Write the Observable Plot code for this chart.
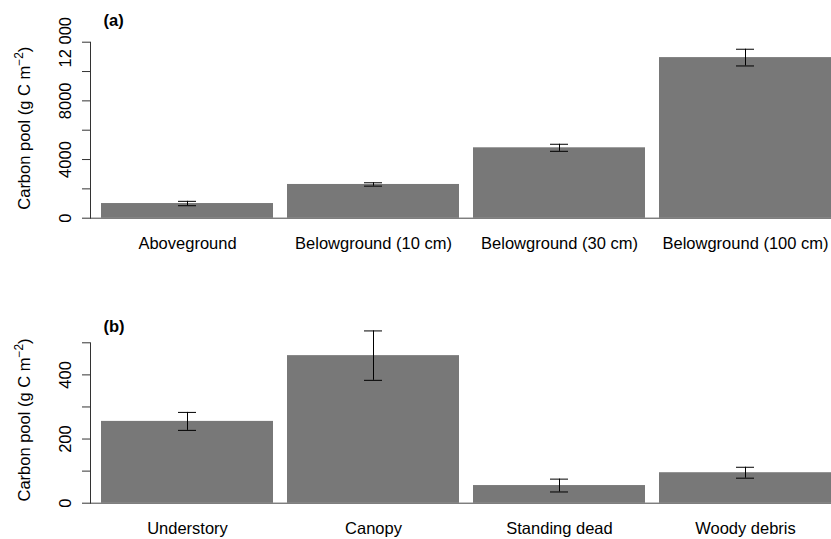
<!DOCTYPE html>
<html>
<head>
<meta charset="utf-8">
<script src="https://cdn.jsdelivr.net/npm/d3@7"></script>
<script src="https://cdn.jsdelivr.net/npm/@observablehq/plot@0.6"></script>
<style>
  html, body { margin: 0; padding: 0; background: white; }
  #chart svg { display: block; }
</style>
</head>
<body>
<div id="chart"></div>
<script>
// (a) Ecosystem carbon pools
const poolCategories = ["Aboveground", "Belowground (10 cm)", "Belowground (30 cm)", "Belowground (100 cm)"];
const poolMeans = [1000, 2300, 4800, 10950];
const poolErrors = [150, 115, 240, 570];
const poolTicks = [0, 2000, 4000, 6000, 8000, 10000, 12000];
const poolLabelValues = [0, 4000, 8000, 12000];
const poolLabelTexts = ["0", "4000", "8000", "12 000"];

// (b) Aboveground carbon components
const compCategories = ["Understory", "Canopy", "Standing dead", "Woody debris"];
const compMeans = [255, 460, 55, 95];
const compErrors = [28, 77, 20, 17];
const compTicks = [0, 100, 200, 300, 400, 500];
const compLabelValues = [0, 200, 400];
const compLabelTexts = ["0", "200", "400"];

const yTitle = "Carbon pool (g C m-2)";
const FONT = "'Liberation Sans', Arial, Helvetica, sans-serif";

function panel({cats, means, errs, ticks, labelValues, labelTexts, yMax, height, marginTop, marginBottom, tag, tagDy, titleDy}) {
  const rows = cats.map((c, i) => ({category: c, mean: means[i], lo: means[i] - errs[i], hi: means[i] + errs[i]}));
  return Plot.plot({
    width: 831,
    height,
    marginLeft: 90,
    marginRight: 0,
    marginTop,
    marginBottom,
    style: {fontFamily: FONT, fontSize: "16.5px", background: "white", color: "black", overflow: "visible"},
    x: {domain: cats, paddingInner: 0.0774, paddingOuter: 0.0296, align: 1, axis: null},
    y: {domain: [0, yMax], axis: null},
    marks: [
      Plot.barY(rows, {x: "category", y: "mean", fill: "#787878"}),
      Plot.ruleY([0], {stroke: "#444"}),
      Plot.frame({anchor: "left", stroke: "#333"}),
      Plot.axisY({ticks, tickSize: 8, tickFormat: () => "", stroke: "#333", label: null}),
      Plot.text(labelValues, {y: (d) => d, text: (d, i) => labelTexts[i], frameAnchor: "left", rotate: -90, dx: -25, textAnchor: "middle", lineAnchor: "middle", fill: "black"}),
      Plot.ruleX(rows, {x: "category", y1: "lo", y2: "hi", stroke: "black"}),
      Plot.tickY(rows, {x: "category", y: "lo", stroke: "black", insetLeft: 77, insetRight: 77}),
      Plot.tickY(rows, {x: "category", y: "hi", stroke: "black", insetLeft: 77, insetRight: 77}),
      Plot.text(rows, {x: "category", text: "category", frameAnchor: "bottom", dy: 26, lineAnchor: "middle", fill: "black"}),
      Plot.text([tag], {text: (d) => d, frameAnchor: "top-left", dx: 13, dy: tagDy, textAnchor: "start", lineAnchor: "bottom", fontWeight: "bold", fill: "black"}),
      Plot.text([yTitle], {text: (d) => d, frameAnchor: "left", rotate: -90, dx: -66, dy: titleDy, textAnchor: "middle", lineAnchor: "middle", fill: "black"})
    ]
  });
}

const poolChart = panel({
  cats: poolCategories, means: poolMeans, errs: poolErrors, ticks: poolTicks,
  labelValues: poolLabelValues, labelTexts: poolLabelTexts, yMax: 12000,
  height: 270, marginTop: 41.7, marginBottom: 52.3, tag: "(a)", tagDy: -16, titleDy: -2
});
const compChart = panel({
  cats: compCategories, means: compMeans, errs: compErrors, ticks: compTicks,
  labelValues: compLabelValues, labelTexts: compLabelTexts, yMax: 500,
  height: 269, marginTop: 72.3, marginBottom: 36.3, tag: "(b)", tagDy: -11, titleDy: -3
});

const chart = document.getElementById("chart");
chart.append(poolChart, compChart);

// Superscript the exponent in the y-axis titles
for (const t of chart.querySelectorAll("text")) {
  if (t.textContent === yTitle) {
    const ns = "http://www.w3.org/2000/svg";
    t.textContent = "";
    const a = document.createElementNS(ns, "tspan");
    a.textContent = "Carbon pool (g C m";
    const sup = document.createElementNS(ns, "tspan");
    sup.textContent = "\u22122";
    sup.setAttribute("font-size", "0.72em");
    sup.setAttribute("dy", "-0.55em");
    const b = document.createElementNS(ns, "tspan");
    b.textContent = ")";
    b.setAttribute("dy", "0.4em");
    t.append(a, sup, b);
  }
}
</script>
</body>
</html>
